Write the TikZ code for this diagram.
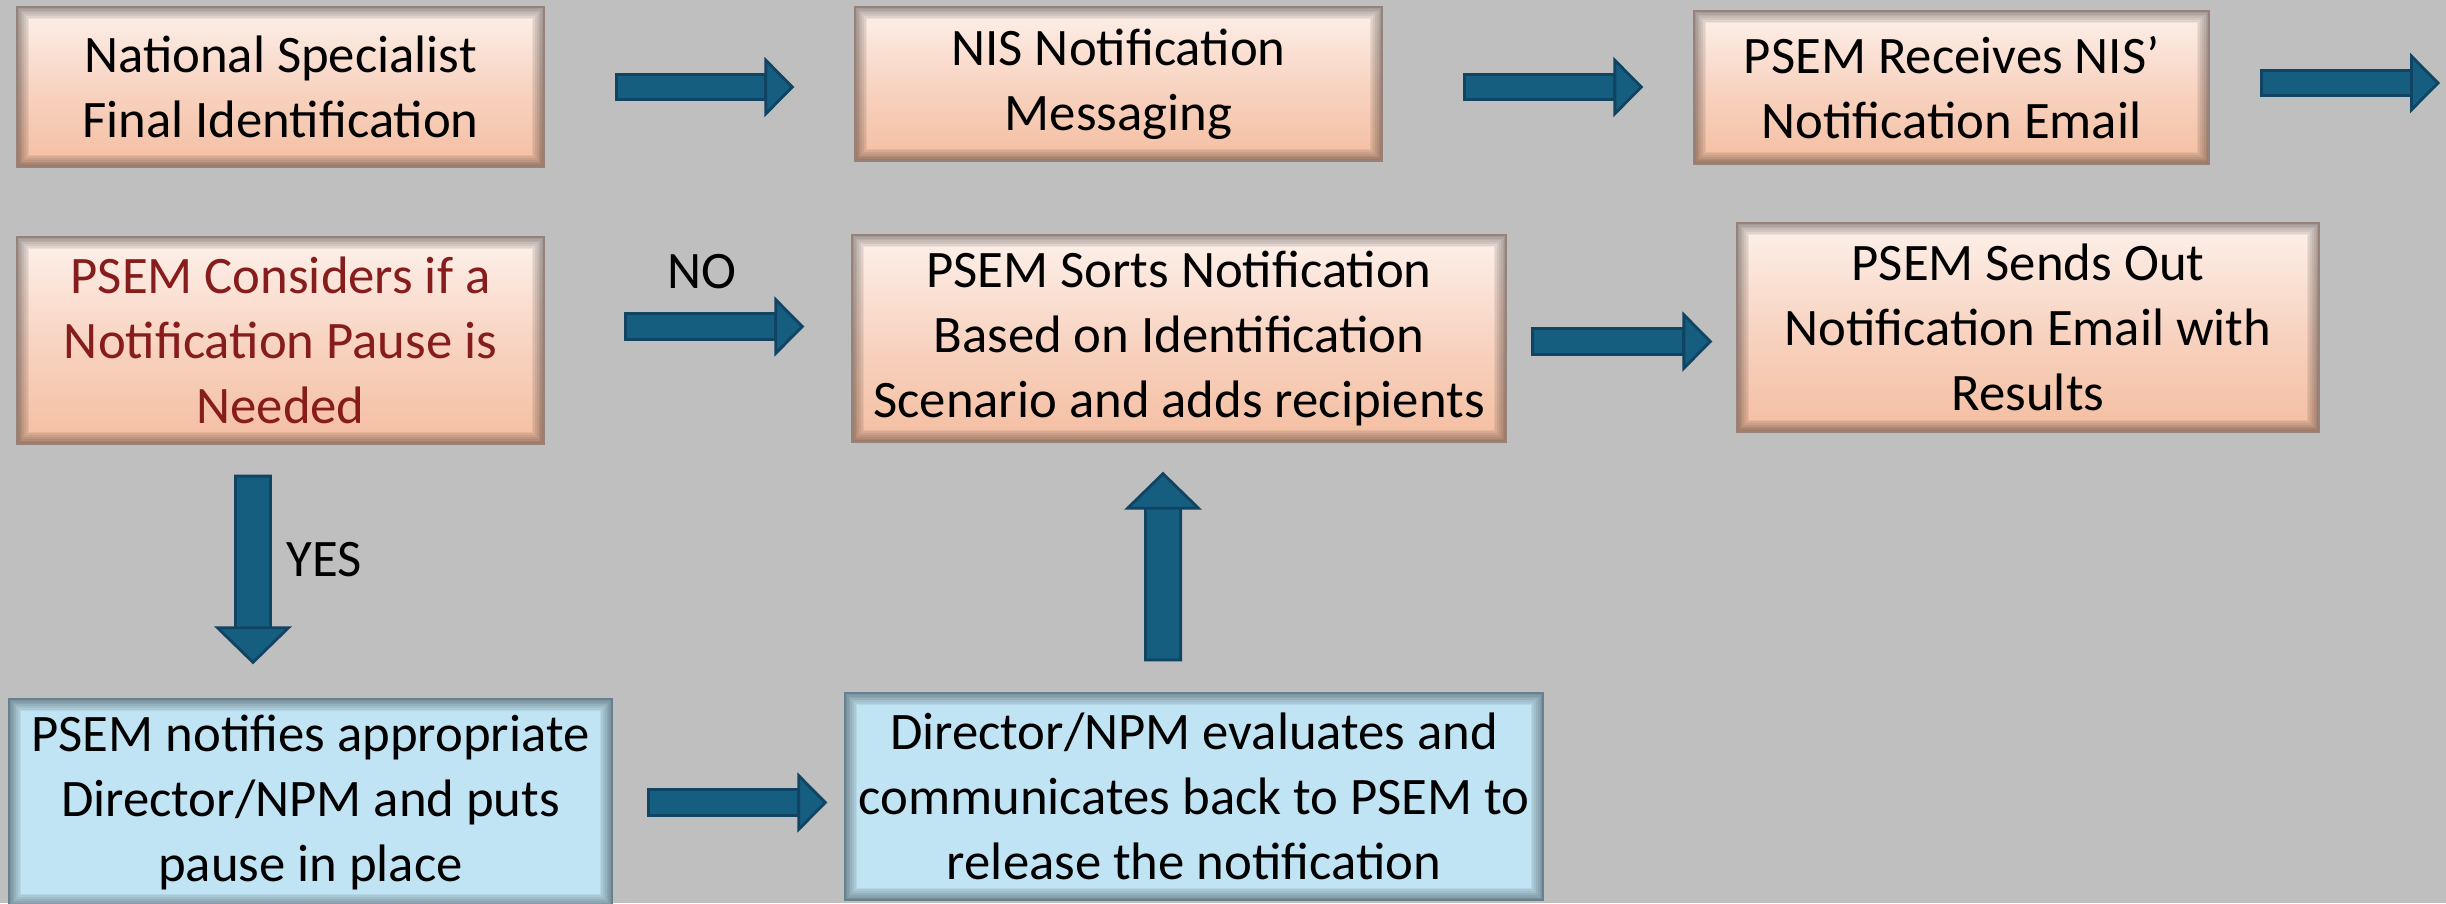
\documentclass[tikz,border=0pt]{standalone}
\usepackage{fontspec}
\setmainfont{Carlito}
\usetikzlibrary{arrows.meta,calc}
\definecolor{slidegray}{RGB}{191,191,191}
\definecolor{peachtop}{RGB}{253,241,235}
\definecolor{peachmid}{RGB}{248,212,194}
\definecolor{peachbot}{RGB}{244,190,161}
\definecolor{peachedge}{RGB}{150,130,120}
\definecolor{skyfill}{RGB}{193,228,244}
\definecolor{skyedge}{RGB}{100,130,145}
\definecolor{flowblue}{RGB}{22,94,128}
\definecolor{flowedge}{RGB}{16,68,98}
\definecolor{pausered}{RGB}{135,28,28}

\begin{document}
\begin{tikzpicture}[
    font=\fontsize{15pt}{18.5pt}\selectfont,
    innershadow/.style={path picture={
        \foreach \w in {7,6,5,4,3,2,1}
            \draw[black, opacity=0.06, line width=\w pt] (path picture bounding box.south west) rectangle (path picture bounding box.north east);}},
    peachbox/.style={rectangle, draw=peachedge, line width=0.4pt, top color=peachtop, bottom color=peachbot, middle color=peachmid, align=center, inner sep=0pt, innershadow},
    skybox/.style={rectangle, draw=skyedge, line width=0.4pt, fill=skyfill, align=center, inner sep=0pt, innershadow},
    flow/.style={draw=flowedge, line width=8pt, -{Triangle[width=17pt,length=8.5pt,line width=0.8pt,fill=flowblue]},
        postaction={draw=flowblue, line width=6.4pt, -, shorten <=0.8pt, shorten >=8.5pt}},
    flowv/.style={draw=flowedge, line width=10.8pt, -{Triangle[width=22pt,length=10.8pt,line width=0.8pt,fill=flowblue]},
        postaction={draw=flowblue, line width=9.2pt, -, shorten <=0.8pt, shorten >=10.8pt}}
]
    % Slide area
    \useasboundingbox (0,0) rectangle (24.46,-9.03);
    \fill[slidegray] (0,0) rectangle (24.46,-9.03);

    % Define nodes
    \node [peachbox, minimum width=5.27cm, minimum height=1.60cm] (natid) at (2.805,-0.87) {National Specialist\\Final Identification};
    \node [peachbox, minimum width=5.27cm, minimum height=1.54cm] (nismsg) at (11.185,-0.84) {NIS Notification\\Messaging};
    \node [peachbox, minimum width=5.15cm, minimum height=1.53cm] (psemrx) at (19.515,-0.875) {PSEM Receives NIS’\\Notification Email};
    \node [peachbox, minimum width=5.27cm, minimum height=2.07cm, text=pausered] (pausechk) at (2.805,-3.405) {PSEM Considers if a\\Notification Pause is\\Needed};
    \node [peachbox, minimum width=6.54cm, minimum height=2.07cm] (sorts) at (11.79,-3.385) {PSEM Sorts Notification\\Based on Identification\\Scenario and adds recipients};
    \node [peachbox, minimum width=5.82cm, minimum height=2.09cm] (sendout) at (20.28,-3.275) {PSEM Sends Out\\Notification Email with\\Results};
    \node [skybox, minimum width=6.03cm, minimum height=2.07cm] (notifydir) at (3.105,-8.025) {PSEM notifies appropriate\\Director/NPM and puts\\pause in place};
    \node [skybox, minimum width=6.98cm, minimum height=2.07cm] (direval) at (11.94,-7.965) {Director/NPM evaluates and\\communicates back to PSEM to\\release the notification};

    % Arrow ends
    \coordinate (exit) at (24.40,-0.83);
    \coordinate (nostart) at ([xshift=7.9mm,yshift=1.4mm]pausechk.east);
    \coordinate (sortsout) at ([xshift=2.4mm,yshift=-0.3mm]sorts.east);

    % Define arrows
    \draw[flow] ([xshift=7mm]natid.east) -- ([xshift=-6mm]nismsg.west |- natid.east);
    \draw[flow] ([xshift=8mm]nismsg.east |- natid.east) -- ([xshift=-5mm]psemrx.west |- natid.east);
    \draw[flow] ([xshift=5mm]psemrx.east |- exit) -- (exit);
    \draw[flow] (nostart) -- ([xshift=-4.7mm]sorts.west |- nostart);
    \draw[flow] (sortsout) -- ([xshift=-2.4mm]sendout.west |- sortsout);
    \draw[flow] ([xshift=3.4mm]notifydir.east) -- ([xshift=-1.7mm]direval.west |- notifydir.east);
    \draw[flowv] ([xshift=-2.75mm,yshift=-3mm]pausechk.south) -- ([xshift=-5.75mm,yshift=3.4mm]notifydir.north);
    \draw[flowv] ([xshift=-3.1mm,yshift=3.1mm]direval.north) -- ([xshift=-1.6mm,yshift=-2.9mm]sorts.south);

    % Labels for the decision
    \node (nolbl) at (7.02,-2.72) {NO};
    \node (yeslbl) at (3.24,-5.60) {YES};
\end{tikzpicture}
\end{document}
